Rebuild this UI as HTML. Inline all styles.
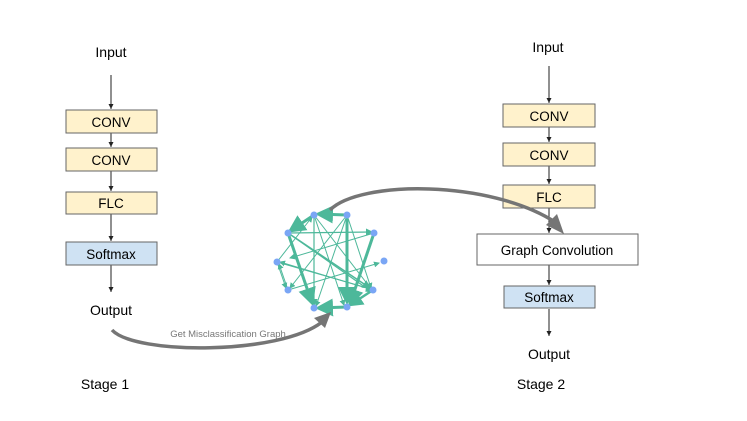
<!DOCTYPE html>
<html><head><meta charset="utf-8"><style>
html,body{margin:0;padding:0;background:#fff;}
svg{display:block;font-family:"Liberation Sans",sans-serif;}
</style></head><body>
<svg width="747" height="421" viewBox="0 0 747 421" xmlns="http://www.w3.org/2000/svg">
<defs>
<marker id="a" markerWidth="6" markerHeight="6" refX="5" refY="3" orient="auto" markerUnits="userSpaceOnUse"><path d="M0,0.5 L5,3 L0,5.5z" fill="#222"/></marker>
<marker id="g" markerWidth="6" markerHeight="6" refX="5" refY="3" orient="auto"><path d="M0,0 L6,3 L0,6z" fill="#4db89a"/></marker>
</defs>
<g font-size="14" fill="#000" text-anchor="middle">
<text x="111" y="57">Input</text>
<text x="111" y="315">Output</text>
<text x="105" y="389">Stage 1</text>
<text x="548" y="52">Input</text>
<text x="549" y="359">Output</text>
<text x="541" y="389">Stage 2</text>
</g>
<g stroke="#222" stroke-width="1" fill="none">
<line x1="111" y1="75" x2="111" y2="109" marker-end="url(#a)"/>
<line x1="111" y1="133" x2="111" y2="147" marker-end="url(#a)"/>
<line x1="111" y1="171" x2="111" y2="191" marker-end="url(#a)"/>
<line x1="111" y1="214" x2="111" y2="241" marker-end="url(#a)"/>
<line x1="111" y1="265" x2="111" y2="292" marker-end="url(#a)"/>
<line x1="549" y1="66" x2="549" y2="103" marker-end="url(#a)"/>
<line x1="549" y1="127" x2="549" y2="142" marker-end="url(#a)"/>
<line x1="549" y1="166" x2="549" y2="184" marker-end="url(#a)"/>
<line x1="549" y1="208" x2="549" y2="233" marker-end="url(#a)"/>
<line x1="549" y1="265" x2="549" y2="285" marker-end="url(#a)"/>
<line x1="549" y1="309" x2="549" y2="336" marker-end="url(#a)"/>
</g>
<g stroke="#666" stroke-width="1" font-size="13.5" text-anchor="middle">
<rect x="66" y="110" width="91" height="23" fill="#fff2cc"/><text x="111" y="127" stroke="none">CONV</text>
<rect x="66" y="148" width="91" height="23" fill="#fff2cc"/><text x="111" y="165" stroke="none">CONV</text>
<rect x="66" y="192" width="91" height="22" fill="#fff2cc"/><text x="111" y="208" stroke="none">FLC</text>
<rect x="66" y="242" width="91" height="23" fill="#cfe2f3"/><text x="111" y="259" stroke="none">Softmax</text>
<rect x="503" y="104" width="92" height="23" fill="#fff2cc"/><text x="549" y="121" stroke="none">CONV</text>
<rect x="503" y="143" width="92" height="23" fill="#fff2cc"/><text x="549" y="160" stroke="none">CONV</text>
<rect x="503" y="185" width="92" height="23" fill="#fff2cc"/><text x="549" y="202" stroke="none">FLC</text>
<rect x="477" y="234" width="161" height="31" fill="#fff"/><text x="557" y="255" stroke="none">Graph Convolution</text>
<rect x="504" y="286" width="91" height="22" fill="#cfe2f3"/><text x="549" y="302" stroke="none">Softmax</text>
</g>
<!-- graph -->
<g stroke="#4db89a" fill="none" marker-end="url(#g)">
<line x1="288" y1="233" x2="372" y2="232" stroke-width="1.2"/>
<line x1="288" y1="233" x2="370" y2="288" stroke-width="1.5"/>
<line x1="288" y1="233" x2="372" y2="292" stroke-width="1.2"/>
<line x1="288" y1="233" x2="312" y2="303" stroke-width="3"/>
<line x1="314" y1="215" x2="290" y2="231" stroke-width="3"/>
<line x1="314" y1="215" x2="314" y2="305" stroke-width="1.2"/>
<line x1="314" y1="215" x2="372" y2="290" stroke-width="1"/>
<line x1="314" y1="215" x2="344" y2="305" stroke-width="1"/>
<line x1="347" y1="215" x2="318" y2="214" stroke-width="3"/>
<line x1="347" y1="215" x2="347" y2="302" stroke-width="3"/>
<line x1="347" y1="215" x2="290" y2="288" stroke-width="1"/>
<line x1="347" y1="215" x2="316" y2="306" stroke-width="1"/>
<line x1="347" y1="215" x2="371" y2="288" stroke-width="1"/>
<line x1="374" y1="233" x2="350" y2="304" stroke-width="3"/>
<line x1="374" y1="233" x2="290" y2="258" stroke-width="1"/>
<line x1="277" y1="262" x2="371" y2="289" stroke-width="1"/>
<line x1="277" y1="262" x2="286" y2="288" stroke-width="1"/>
<line x1="288" y1="290" x2="379" y2="263" stroke-width="1"/>
<line x1="288" y1="290" x2="279" y2="264" stroke-width="1"/>
<line x1="373" y1="290" x2="350" y2="305" stroke-width="2.5"/>
<line x1="347" y1="307" x2="318" y2="308" stroke-width="3"/>
<line x1="373" y1="290" x2="280" y2="262" stroke-width="1"/>
<line x1="277" y1="262" x2="312" y2="217" stroke-width="1"/>
</g>
<g fill="#7aa6f5">
<circle cx="314" cy="215" r="3.5"/><circle cx="347" cy="215" r="3.5"/>
<circle cx="288" cy="233" r="3.5"/><circle cx="374" cy="233" r="3.5"/>
<circle cx="277" cy="262" r="3.5"/><circle cx="384" cy="261" r="3.5"/>
<circle cx="288" cy="290" r="3.5"/><circle cx="373" cy="290" r="3.5"/>
<circle cx="314" cy="308" r="3.5"/><circle cx="347" cy="307" r="3.5"/>
</g>
<!-- gray curves -->
<g stroke="#757575" stroke-width="3.5" fill="none">
<path d="M112,330 C135,355 280,355 322,322"/>
<path d="M330,210 C360,180 490,180 555,222"/>
</g>
<g fill="#757575">
<path d="M331,312 L314,318 L325,328 Z"/>
<path d="M564,234 L546,225 L557,214 Z"/>
</g>
<text x="228" y="337" font-size="9.5" fill="#777" text-anchor="middle" font-family="Liberation Sans,sans-serif">Get Misclassification Graph</text>
</svg>
</body></html>
